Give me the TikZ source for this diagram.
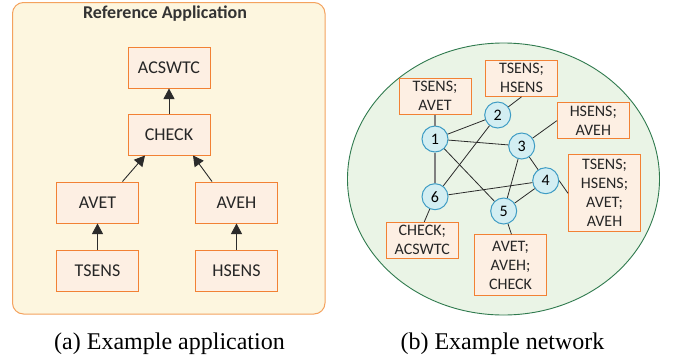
\documentclass[tikz,border=0pt]{standalone}
\usepackage{fontspec}
\setmainfont{Liberation Serif}
\newfontfamily\boxfont{Carlito}
\usetikzlibrary{arrows.meta}

\definecolor{panelfill}{HTML}{FDF6DF}
\definecolor{panelline}{HTML}{F4A25E}
\definecolor{taskfill}{HTML}{FDEFE3}
\definecolor{taskline}{HTML}{F28134}
\definecolor{netfill}{HTML}{EAF4E6}
\definecolor{netline}{HTML}{2F7A4E}
\definecolor{nodefill}{HTML}{D3EEF2}
\definecolor{nodeline}{HTML}{3E9CC4}
\definecolor{linkcol}{HTML}{2B2B2B}

\tikzset{
  taskbox/.style={draw=taskline, fill=taskfill, line width=1pt,
    minimum width=82pt, minimum height=41pt, inner sep=0pt,
    font=\boxfont\fontsize{18}{20}\selectfont, text=black!85},
  mapbox/.style={draw=taskline, fill=taskfill, line width=1pt,
    inner sep=0pt, align=center, minimum width=72pt,
    font=\boxfont\fontsize{16}{19}\selectfont, text=black!85},
  devnode/.style={circle, draw=nodeline, fill=nodefill, line width=1pt,
    minimum size=26pt, inner sep=0pt,
    font=\boxfont\fontsize{16}{18}\selectfont},
  flow/.style={-{Triangle[length=10.5pt,width=11pt]}, line width=0.9pt, draw=linkcol},
  link/.style={line width=0.8pt, draw=linkcol},
  graylink/.style={line width=1.4pt, draw=black!50},
  caption/.style={font=\fontsize{24}{28}\selectfont}
}

\begin{document}
\begin{tikzpicture}[x=1pt, y=-1pt]
\useasboundingbox (0,0) rectangle (675,362);

% application panel
\draw[panelline, fill=panelfill, line width=1pt, rounded corners=11pt]
  (12.5,2.5) rectangle (325,314);
\node[font=\boxfont\bfseries\fontsize{18}{20}\selectfont, text=black!80]
  (title) at (165,14) {Reference Application};

\node[taskbox] (acs)   at (169,67.5)   {ACSWTC};
\node[taskbox] (chk)   at (169,134.5)  {CHECK};
\node[taskbox] (avet)  at (97.5,202.5) {AVET};
\node[taskbox] (aveh)  at (236.5,202.5){AVEH};
\node[taskbox] (tsens) at (97.5,270.5) {TSENS};
\node[taskbox] (hsens) at (236.5,270.5){HSENS};

\draw[flow] (chk) -- (acs);
\draw[flow] ([xshift=25pt]avet.north) -- ([xshift=-24pt]chk.south);
\draw[flow] ([xshift=-24.5pt]aveh.north) -- ([xshift=24pt]chk.south);
\draw[flow] (tsens) -- (avet);
\draw[flow] (hsens) -- (aveh);

% network panel
\draw[netline, fill=netfill, line width=0.9pt] (503.5,179) ellipse (156pt and 136pt);

\node[devnode] (n1) at (435,139)     {1};
\node[devnode] (n2) at (497.7,115)   {2};
\node[devnode] (n3) at (521.7,146)   {3};
\node[devnode] (n4) at (545.7,180.7) {4};
\node[devnode] (n5) at (503.7,211)   {5};
\node[devnode] (n6) at (435,196.7)   {6};

\node[mapbox, minimum height=36pt] (m1) at (435,96)      {TSENS;\\AVET};
\node[mapbox, minimum height=36pt] (m2) at (521.5,78.3)  {TSENS;\\HSENS};
\node[mapbox, minimum height=36pt] (m3) at (593.3,120.7) {HSENS;\\AVEH};
\node[mapbox, minimum height=77pt] (m4) at (604.5,193.3) {TSENS;\\HSENS;\\AVET;\\AVEH};
\node[mapbox, minimum height=36pt] (m6) at (422.3,240.3) {CHECK;\\ACSWTC};
\node[mapbox, minimum height=61pt] (m5) at (510.5,265.3) {AVET;\\AVEH;\\CHECK};

% links between devices
\draw[graylink] (n1) -- (n6);
\draw[link] (n1) -- (n2);
\draw[link] (n1) -- (n3);
\draw[link] (n1) -- (n5);
\draw[link] (n2) -- (n6);
\draw[link] (n3) -- (n4);
\draw[link] (n3) -- (n5);
\draw[link] (n4) -- (n6);
\draw[link] (n4) -- (n5);

% task assignments
\draw[graylink] (n1) -- (m1.south);
\draw[link] (n2) -- (m2.south);
\draw[link] (n3) -- (m3.west);
\draw[link] (n4.east) -- (m4.west);
\draw[link] (n5) -- ([xshift=1pt]m5.north);
\draw[link] (n6) -- ([xshift=2pt]m6.north);

% captions
\node[caption] (capa) at (169.5,344) {(a) Example application};
\node[caption] (capb) at (502.5,344) {(b) Example network};
\end{tikzpicture}
\end{document}
